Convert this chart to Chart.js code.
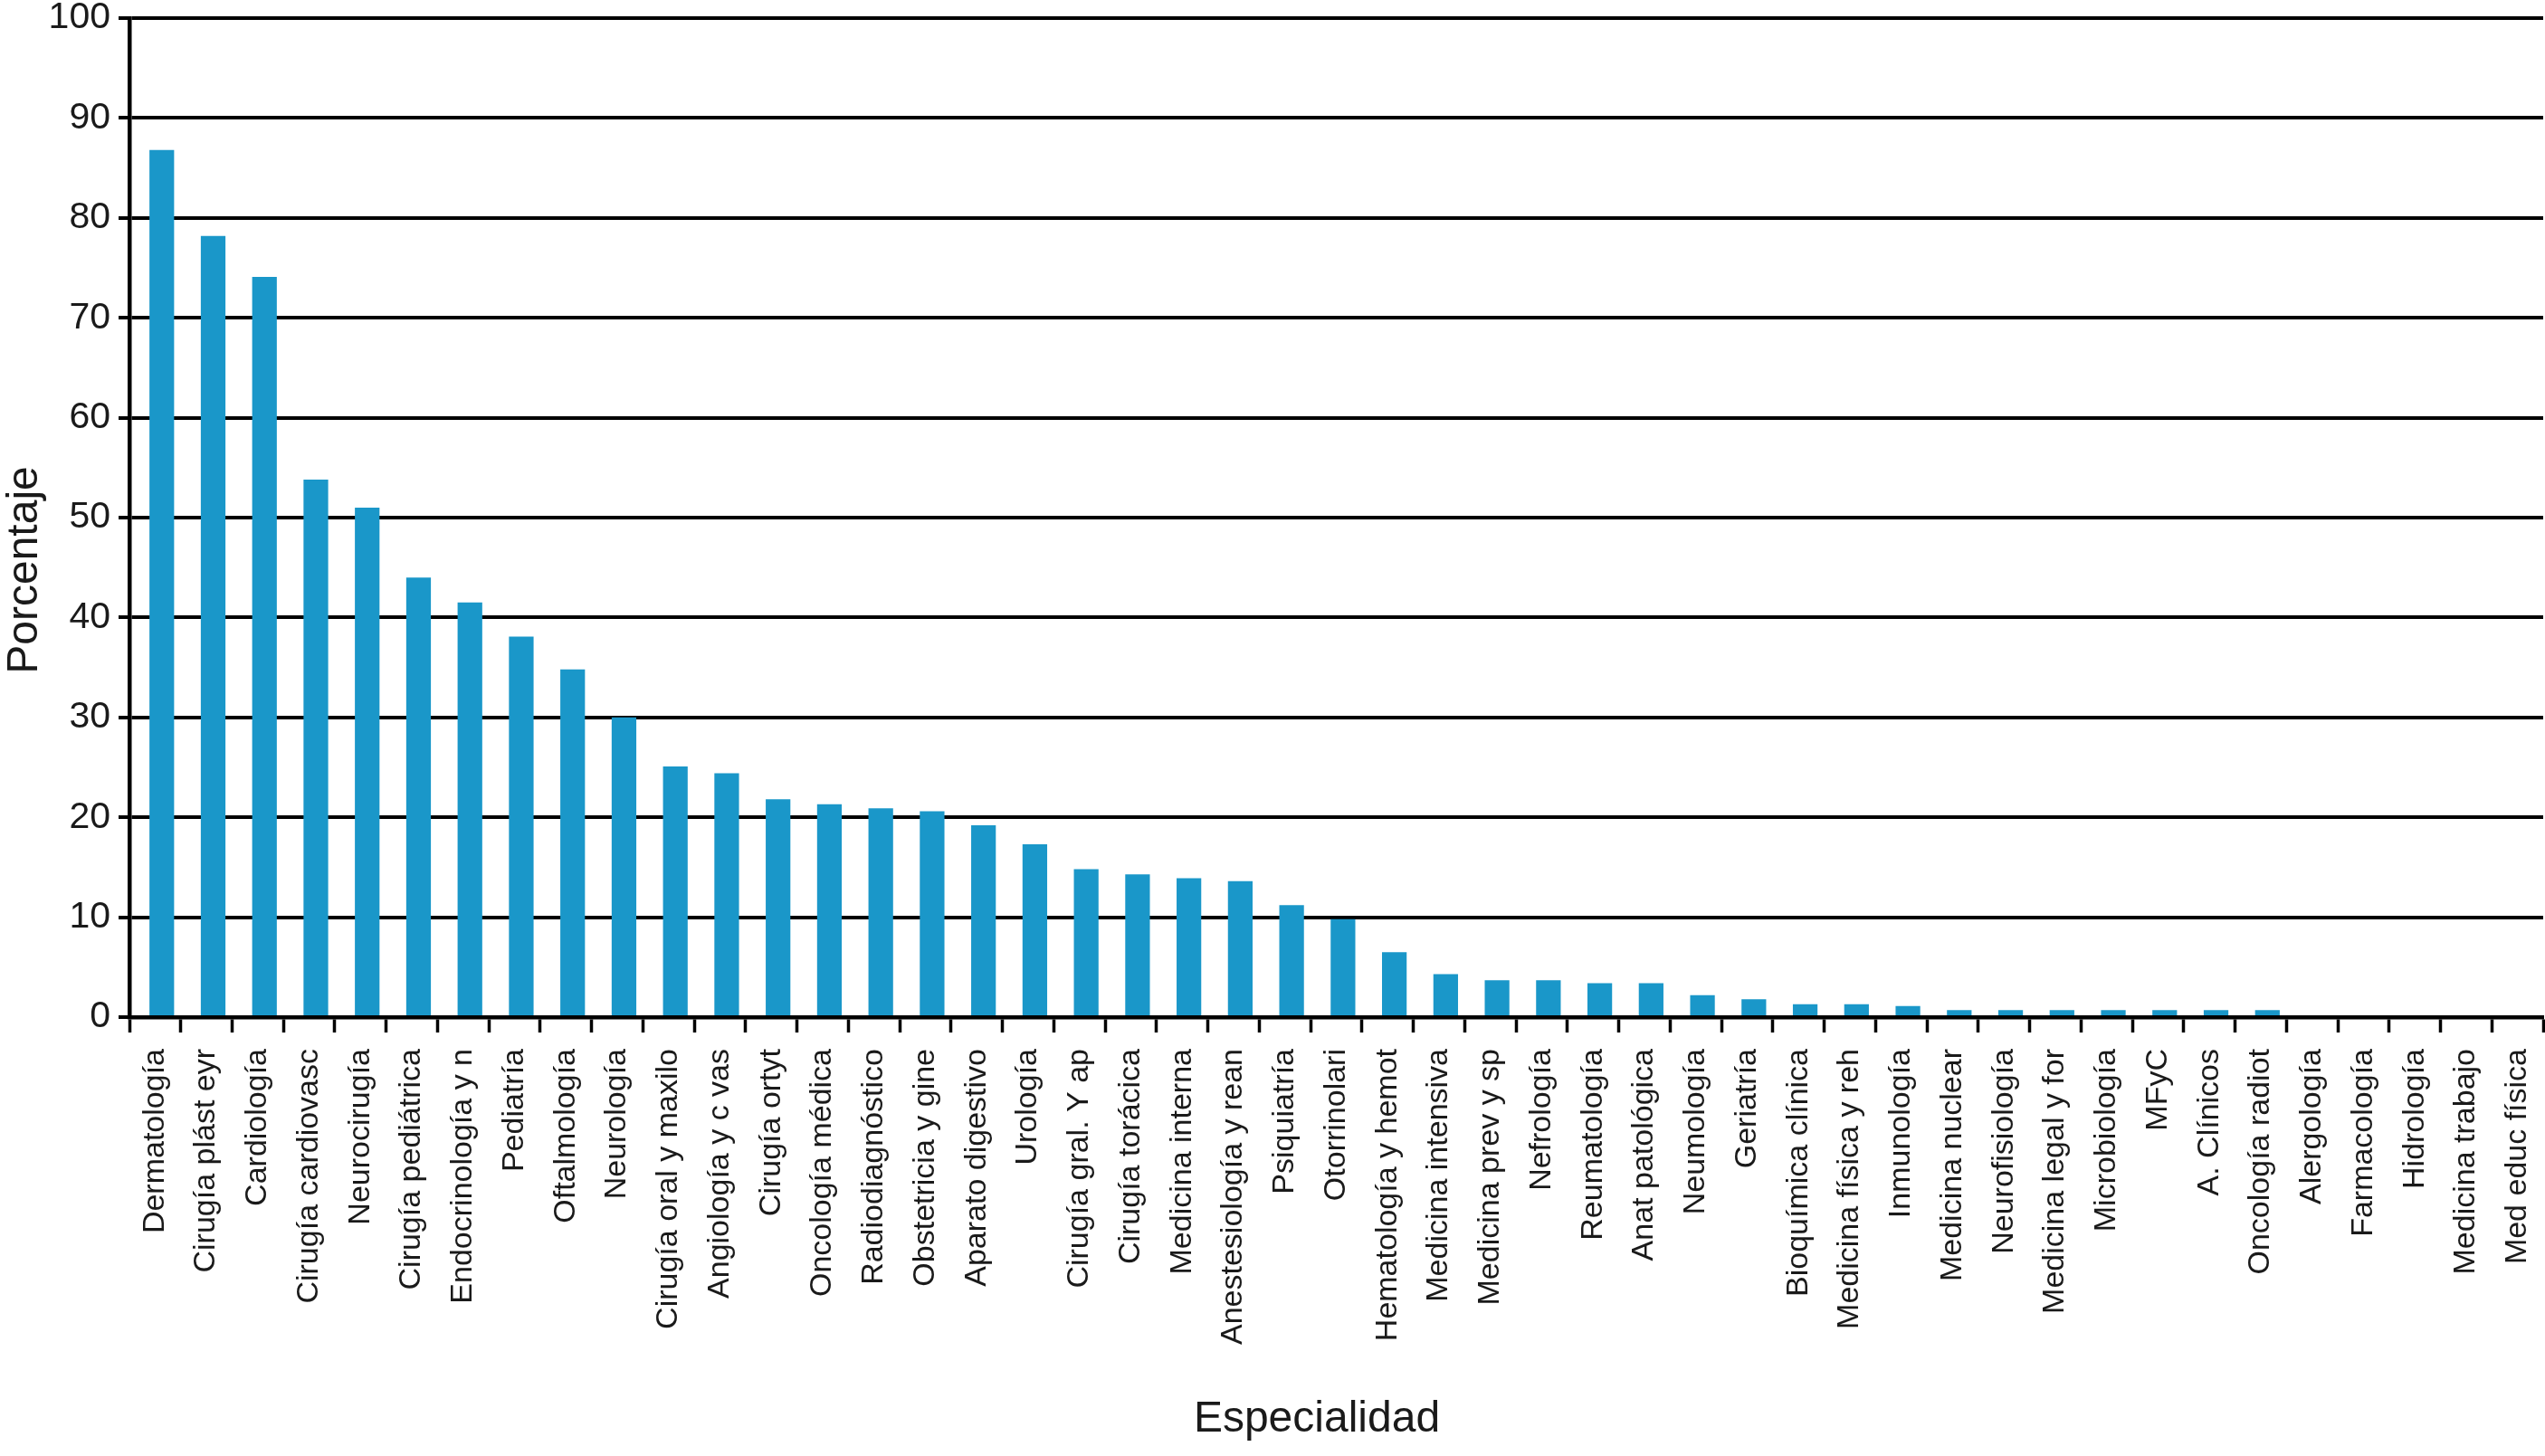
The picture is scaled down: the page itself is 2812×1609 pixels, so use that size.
<!DOCTYPE html>
<html>
<head>
<meta charset="utf-8">
<script src="https://cdn.jsdelivr.net/npm/chart.js@4.4.1/dist/chart.umd.min.js"></script>
<style>
  html, body { margin: 0; padding: 0; background: #fff; }
  #wrap { width: 2812px; height: 1609px; position: relative; }
</style>
</head>
<body>
<div id="wrap"><canvas id="chart"></canvas></div>
<script>
// Especialidades (eje X)
const especialidades = [
  'Dermatología', 'Cirugía plást eyr', 'Cardiología', 'Cirugía cardiovasc', 'Neurocirugía',
  'Cirugía pediátrica', 'Endocrinología y n', 'Pediatría', 'Oftalmología', 'Neurología',
  'Cirugía oral y maxilo', 'Angiología y c vas', 'Cirugía ortyt', 'Oncología médica', 'Radiodiagnóstico',
  'Obstetricia y gine', 'Aparato digestivo', 'Urología', 'Cirugía gral. Y ap', 'Cirugía torácica',
  'Medicina interna', 'Anestesiología y rean', 'Psiquiatría', 'Otorrinolari', 'Hematología y hemot',
  'Medicina intensiva', 'Medicina prev y sp', 'Nefrología', 'Reumatología', 'Anat patológica',
  'Neumología', 'Geriatría', 'Bioquímica clínica', 'Medicina física y reh', 'Inmunología',
  'Medicina nuclear', 'Neurofisiología', 'Medicina legal y for', 'Microbiología', 'MFyC',
  'A. Clínicos', 'Oncología radiot', 'Alergología', 'Farmacología', 'Hidrología',
  'Medicina trabajo', 'Med educ física'
];

// Porcentaje por especialidad
const porcentaje = [
  86.8, 78.2, 74.1, 53.8, 51.0,
  44.0, 41.5, 38.1, 34.8, 30.0,
  25.1, 24.4, 21.8, 21.3, 20.9,
  20.6, 19.2, 17.3, 14.8, 14.3,
  13.9, 13.6, 11.2, 9.8, 6.5,
  4.3, 3.7, 3.7, 3.4, 3.4,
  2.2, 1.8, 1.3, 1.3, 1.1,
  0.7, 0.7, 0.7, 0.7, 0.7,
  0.7, 0.7, 0, 0, 0,
  0, 0
];

const yTicks = [0, 10, 20, 30, 40, 50, 60, 70, 80, 90, 100];
const xTitle = 'Especialidad';
const yTitle = 'Porcentaje';

const FONT = '"Liberation Sans", Arial, Helvetica, sans-serif';
const INK = '#1a1a1a';

// bars sit a little right of the category centre in the original
const barShift = {
  id: 'barShift',
  beforeDatasetsDraw(chart) {
    const x = chart.scales.x;
    const step = x.width / especialidades.length;
    chart.ctx.save();
    chart.ctx.translate(step * 0.13, 0);
  },
  afterDatasetsDraw(chart) {
    chart.ctx.restore();
  }
};

// axis titles, placed as in the original
const axisTitles = {
  id: 'axisTitles',
  afterDraw(chart) {
    const ctx = chart.ctx;
    ctx.save();
    ctx.fillStyle = INK;
    ctx.font = '48px ' + FONT;
    ctx.textAlign = 'center';
    ctx.textBaseline = 'middle';
    ctx.fillText(xTitle, 1455, 1569);
    ctx.translate(28, 630);
    ctx.rotate(-Math.PI / 2);
    ctx.fillText(yTitle, 0, 0);
    ctx.restore();
  }
};

new Chart(document.getElementById('chart'), {
  type: 'bar',
  data: {
    labels: especialidades,
    datasets: [{
      label: yTitle,
      data: porcentaje,
      backgroundColor: '#1a97c9',
      borderWidth: 0,
      barPercentage: 0.48,
      categoryPercentage: 1
    }]
  },
  options: {
    responsive: true,
    maintainAspectRatio: false,
    animation: false,
    layout: { padding: { top: 20, right: 2, bottom: 0, left: 0 } },
    plugins: {
      legend: { display: false },
      tooltip: { enabled: false }
    },
    scales: {
      x: {
        offset: true,
        grid: {
          offset: true,
          drawOnChartArea: false,
          drawTicks: true,
          tickLength: 17,
          tickWidth: 3.5,
          tickColor: '#000'
        },
        border: { display: true, color: '#000', width: 4.5 },
        ticks: {
          autoSkip: false,
          minRotation: 90,
          maxRotation: 90,
          padding: 18,
          color: INK,
          font: { family: FONT, size: 34, lineHeight: 1.0 }
        },
        afterFit(s) {
          s.height = 485;
          s.paddingLeft = 0;
          s.paddingRight = 0;
        }
      },
      y: {
        min: 0,
        max: 100,
        afterBuildTicks(s) {
          s.ticks = yTicks.map(v => ({ value: v }));
        },
        grid: {
          color: '#000',
          lineWidth: 4,
          drawTicks: true,
          tickLength: 12,
          tickWidth: 4,
          tickColor: '#000'
        },
        border: { display: true, color: '#000', width: 4.5 },
        ticks: {
          padding: 9,
          color: INK,
          font: { family: FONT, size: 41, lineHeight: 0.9 }
        },
        afterFit(s) {
          s.width = 143;
          s.paddingTop = 0;
          s.paddingBottom = 0;
        }
      }
    }
  },
  plugins: [barShift, axisTitles]
});
</script>
</body>
</html>
